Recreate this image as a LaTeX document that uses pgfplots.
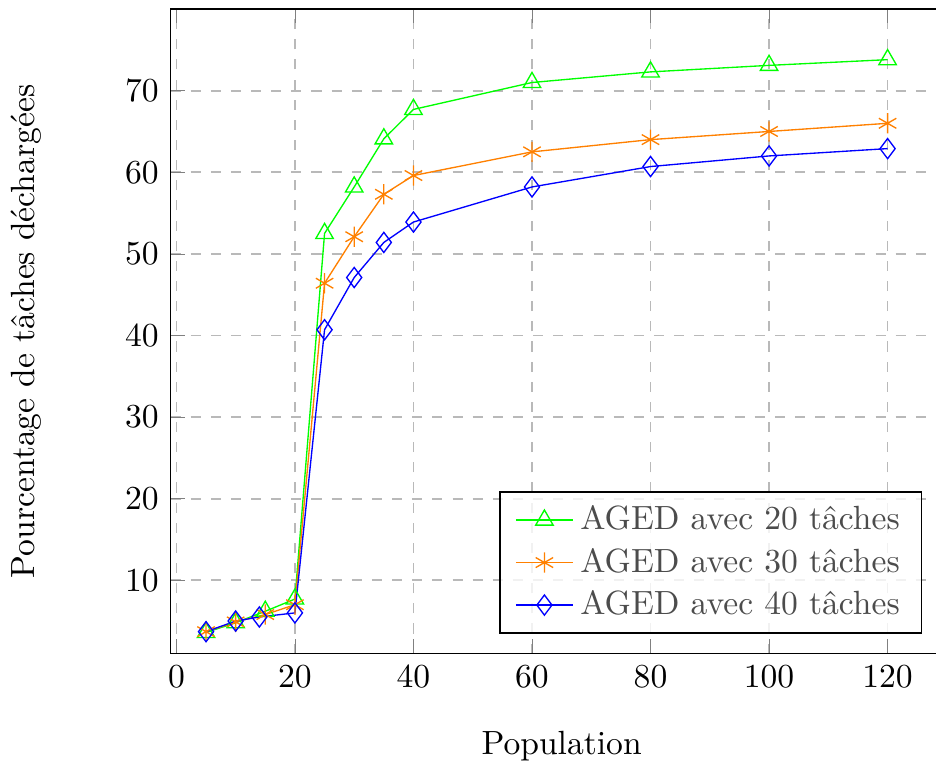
\documentclass[border=0pt]{standalone}
\usepackage{pgfplots}
\pgfplotsset{compat=1.18}
\definecolor{cgreen}{RGB}{0,255,0}
\definecolor{corange}{RGB}{255,128,0}
\definecolor{cblue}{RGB}{0,0,255}
\begin{document}
\begin{tikzpicture}
\begin{axis}[
  scale only axis,
  width=233pt, height=192pt,
  xmin=-1, xmax=131, ymin=1, ymax=80,
  xtick={0,20,40,60,80,100,120},
  ytick={10,20,30,40,50,60,70},
  grid=major,
  grid style={dashed, gray!55, line width=0.5pt},
  xlabel={Population},
  ylabel={Pourcentage de tâches déchargées},
  xlabel style={yshift=-6.2pt},
  ylabel style={yshift=18pt},
  legend style={at={(0.961,0.031)}, anchor=south east, fill=white, fill opacity=0.8, draw opacity=1, text opacity=1, text=black!70, draw=black, inner xsep=4.5pt},
  legend cell align=left,
]
\addplot[color=cgreen, mark=triangle, mark size=3pt, mark options={solid}] coordinates {
(5,3.6) (10,4.8) (15,6.2) (20,7.7) (25,52.5) (30,58.2) (35,64.1) (40,67.7) (60,71.0) (80,72.3) (100,73.1) (120,73.8)
};
\addlegendentry{AGED avec 20 tâches}
\addplot[color=corange, mark=asterisk, mark size=3pt] coordinates {
(5,3.7) (10,4.9) (15,5.8) (20,7.0) (25,46.4) (30,52.1) (35,57.3) (40,59.6) (60,62.5) (80,64.0) (100,65.0) (120,66.0)
};
\addlegendentry{AGED avec 30 tâches}
\addplot[color=cblue, mark=diamond, mark size=3pt] coordinates {
(5,3.7) (10,5.0) (14,5.5) (20,6.0) (25,40.7) (30,47.1) (35,51.4) (40,53.9) (60,58.2) (80,60.7) (100,62.0) (120,62.9)
};
\addlegendentry{AGED avec 40 tâches}
\coordinate (tl) at (rel axis cs:0,1);
\end{axis}
\coordinate (sw) at (current bounding box.south west);
\pgfresetboundingbox
\useasboundingbox (sw) rectangle ([xshift=228pt, yshift=2.7pt]tl);
\end{tikzpicture}
\end{document}
